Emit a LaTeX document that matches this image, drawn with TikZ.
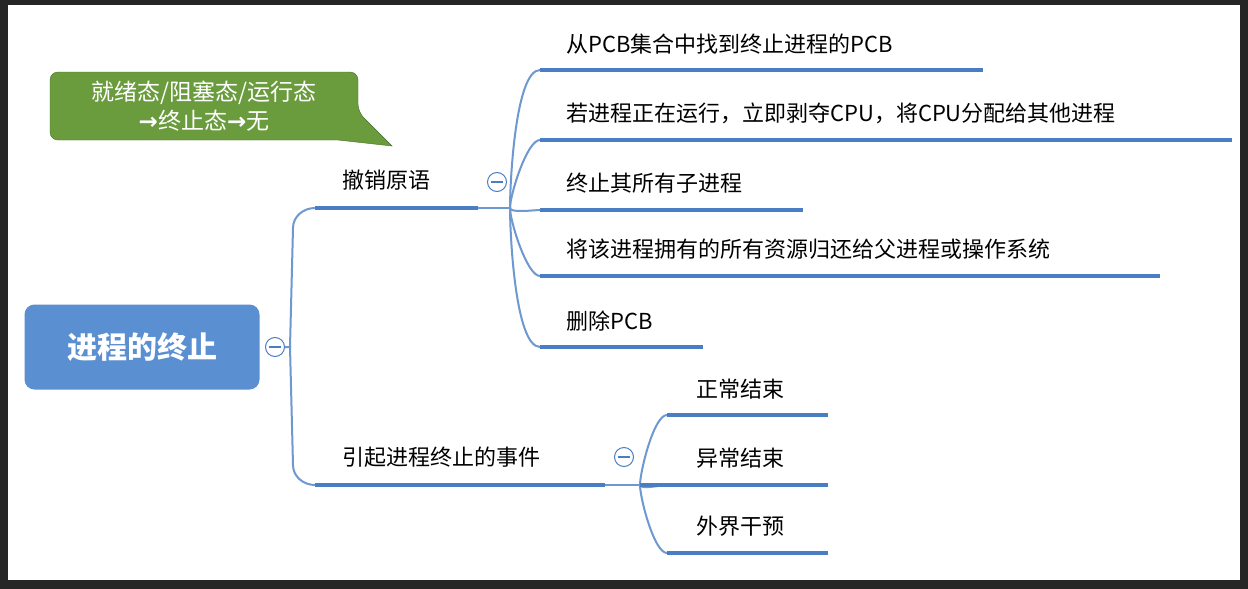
\documentclass[tikz,border=0pt]{standalone}
\usepackage{fontspec}
\setmainfont{Noto Sans CJK SC}
\usetikzlibrary{positioning, shapes}
\definecolor{mmblue}{HTML}{5A8FD2}
\definecolor{mmline}{HTML}{4A7EC4}
\definecolor{mmgreen}{HTML}{6A9C3E}
\tikzset{
  leaf/.style={anchor=south west, inner sep=4pt, font=\fontsize{22}{25}\selectfont},
  uline/.style={draw=mmline, line width=3.5pt},
  branch/.style={draw=mmline!80, line width=2pt},
  fold/.style={circle, draw=mmline, line width=1pt, fill=white, minimum size=19pt, inner sep=0pt}
}
\begin{document}
\begin{tikzpicture}[x=1pt, y=-1pt]
  \fill[black!85] (0,0) rectangle (1248,589);
  \fill[white] (8,5) rectangle (1240,580);
  % root
  \node[fill=mmblue, rounded corners=10pt, minimum width=235pt, minimum height=85pt,
        text=white, font=\fontsize{30}{34}\bfseries\selectfont] (root) at (142,347) {进程的终止};
  \node[fold] (f0) at (275,347) {};
  \draw[mmline, line width=1.2pt] (269,347) -- (281,347);
  \coordinate (b0) at (290,347);
  % level one
  \coordinate (r1) at (315,208);
  \coordinate (r2) at (315,485);
  \draw[uline] (315,208) -- (478,208);
  \node[leaf] (t1) at (338,195) {撤销原语};
  \draw[uline] (315,485) -- (605,485);
  \node[leaf] (t2) at (338,472) {引起进程终止的事件};
  \draw[branch] (f0) -- (b0) -- (293,228) to[out=90, in=180] (r1);
  \draw[branch] (b0) -- (293,465) to[out=-90, in=180] (r2);
  % undo primitive
  \node[fold] (f1) at (497,182) {};
  \draw[mmline, line width=1.2pt] (491,182) -- (503,182);
  \coordinate (b1) at (510,208);
  \draw[branch] (478,208) -- (b1);
  \foreach \y/\xe/\txt in {70/983/从PCB集合中找到终止进程的PCB,
                           140/1232/{若进程正在运行，立即剥夺CPU，将CPU分配给其他进程},
                           210/803/终止其所有子进程,
                           276/1160/将该进程拥有的所有资源归还给父进程或操作系统,
                           347/703/删除PCB} {
    \draw[branch] (b1) to[out={\y<208 ? 90 : -90}, in=180, looseness=0.45] (540,\y);
    \draw[uline] (540,\y) -- (\xe,\y);
    \node[leaf] at (562,\y-12) {\txt};
  }
  % events
  \node[fold] (f2) at (624,457) {};
  \draw[mmline, line width=1.2pt] (618,457) -- (630,457);
  \coordinate (b2) at (640,485);
  \draw[branch] (605,485) -- (b2);
  \foreach \y/\txt in {415/正常结束, 485/异常结束, 553/外界干预} {
    \draw[branch] (b2) to[out={\y<485 ? 90 : -90}, in=180, looseness=0.45] (667,\y);
    \draw[uline] (667,\y) -- (828,\y);
    \node[leaf] at (692,\y-12) {\txt};
  }
  \draw[uline] (640,485) -- (667,485);
  % callout
  \draw[fill=mmgreen, draw=mmgreen!70!black, rounded corners=8pt]
    (50,72) -- (358,72) -- (358,112) [sharp corners] -- (392,146) -- (338,140)
    [rounded corners=8pt] -- (50,140) -- cycle;
  \node[text=white, align=center, font=\fontsize{23}{29}\selectfont] (note) at (204,106)
    {就绪态/阻塞态/运行态\\{\fontspec{DejaVu Sans}\bfseries→}终止态{\fontspec{DejaVu Sans}\bfseries→}无};
\end{tikzpicture}
\end{document}
